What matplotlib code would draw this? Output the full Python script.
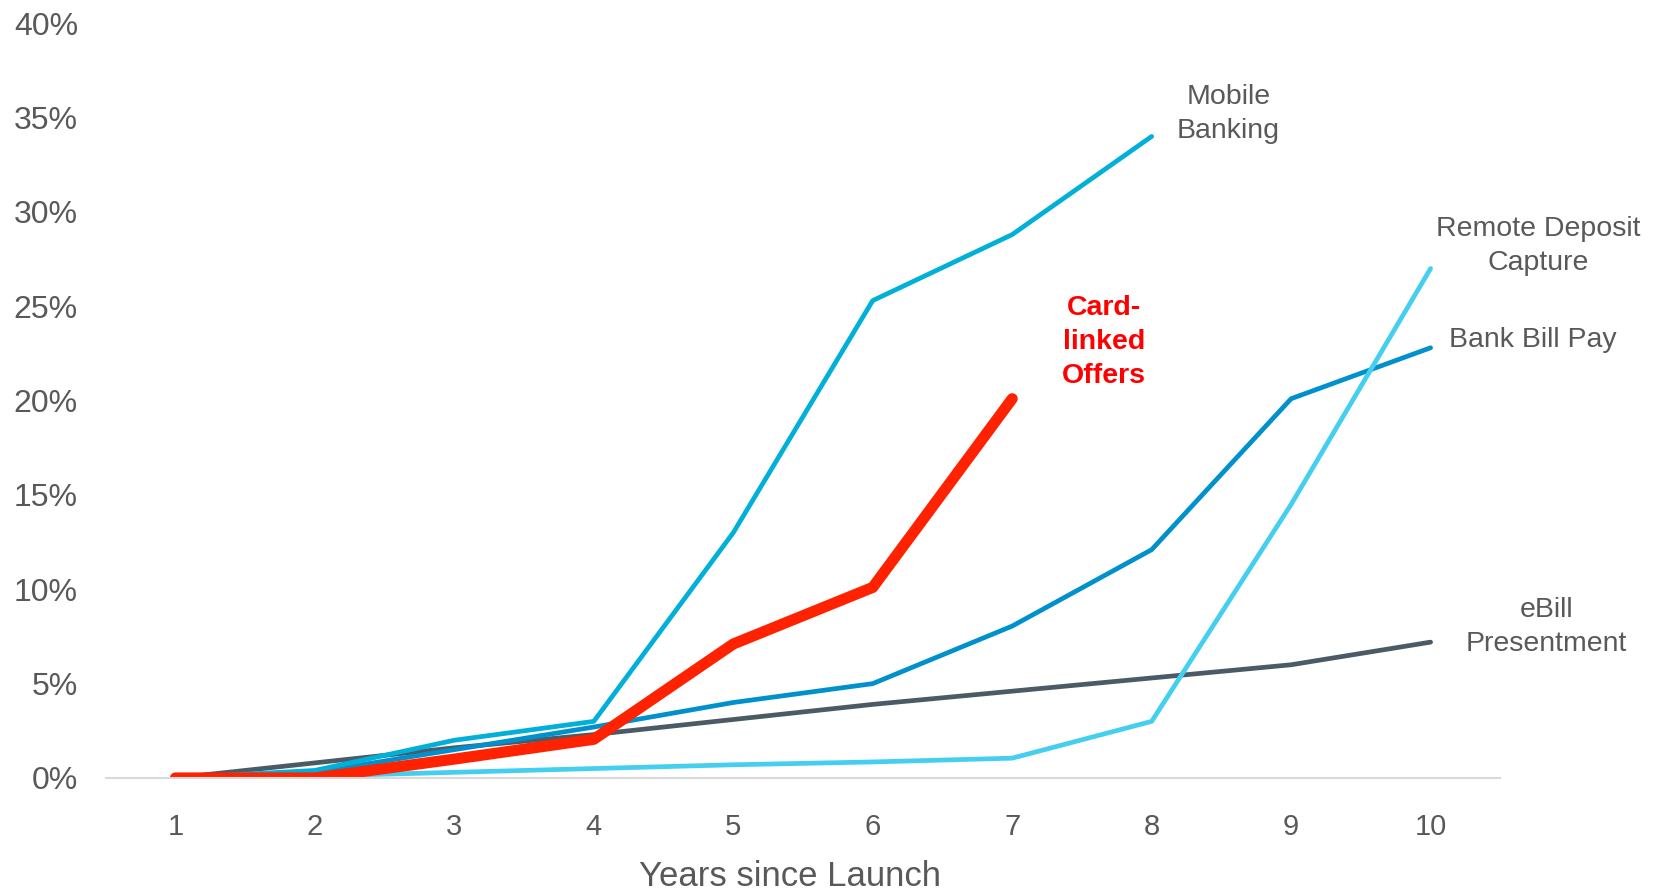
import matplotlib
matplotlib.use("Agg")
import matplotlib.pyplot as plt
from matplotlib.ticker import FuncFormatter

plt.rcParams["font.family"] = ["Liberation Sans", "DejaVu Sans"]

# 데이터 (연차별 도입률, %)
years = [1, 2, 3, 4, 5, 6, 7, 8, 9, 10]
ebill = [0.0, 0.8, 1.6, 2.3, 3.1, 3.9, 4.6, 5.3, 6.0, 7.2]
bill_pay = [0.0, 0.3, 1.5, 2.7, 4.0, 5.0, 8.05, 12.1, 20.1, 22.8]
remote_deposit = [0.0, 0.1, 0.3, 0.5, 0.7, 0.85, 1.05, 3.0, 14.5, 27.0]
mobile_banking = [0.0, 0.4, 2.0, 3.0, 13.0, 25.3, 28.8, 34.0]
card_linked = [0.0, 0.0, 1.0, 2.05, 7.1, 10.1, 20.1]

y_ticks = [0, 5, 10, 15, 20, 25, 30, 35, 40]
text_color = "#595959"

fig = plt.figure(figsize=(16.56, 8.93), dpi=100)
ax = fig.add_axes([0.0638, 0.1288, 0.8422, 0.8452])

# 선 그리기 (겹침 순서 유지)
ax.plot(years, ebill, color="#4a5b66", lw=3.4, solid_capstyle="round", solid_joinstyle="round")
ax.plot(years, bill_pay, color="#0090cc", lw=3.4, solid_capstyle="round", solid_joinstyle="round")
ax.plot(years, remote_deposit, color="#44cff0", lw=3.4, solid_capstyle="round", solid_joinstyle="round")
ax.plot(years[:len(mobile_banking)], mobile_banking, color="#00b0d8", lw=3.4,
        solid_capstyle="round", solid_joinstyle="round")
ax.plot(years[:len(card_linked)], card_linked, color="#ff2200", lw=8,
        solid_capstyle="round", solid_joinstyle="round")

# 시리즈 라벨
lab = dict(fontsize=20.5, color=text_color, va="center", linespacing=1.4)
ax.text(8.55, 35.2, "Mobile\nBanking", ha="center", **lab)
ax.text(10.77, 28.2, "Remote Deposit\nCapture", ha="center", **lab)
ax.text(10.13, 23.2, "Bank Bill Pay", ha="left", **lab)
ax.text(10.83, 8.0, "eBill\nPresentment", ha="center", **lab)
ax.text(7.66, 23.1, "Card-\nlinked\nOffers", ha="center", va="center", linespacing=1.4,
        fontsize=20.5, color="#ff0000", fontweight="bold")

ax.set_xlim(0.5, 10.5)
ax.set_ylim(0, 40)
ax.set_xticks(years)
ax.set_yticks(y_ticks)
ax.yaxis.set_major_formatter(FuncFormatter(lambda v, _: f"{v:.0f}%"))
ax.tick_params(axis="both", length=0, labelcolor=text_color)
ax.tick_params(axis="y", pad=20, labelsize=23)
ax.tick_params(axis="x", pad=25, labelsize=21)

for side in ("top", "right", "left"):
    ax.spines[side].set_visible(False)
ax.spines["bottom"].set_color("#d9d9d9")
ax.spines["bottom"].set_linewidth(1.5)

ax.set_xlabel("Years since Launch", fontsize=25, color=text_color, va="center")
ax.xaxis.set_label_coords(0.491, -0.131)

plt.savefig("out.png", dpi=100)
plt.close()
